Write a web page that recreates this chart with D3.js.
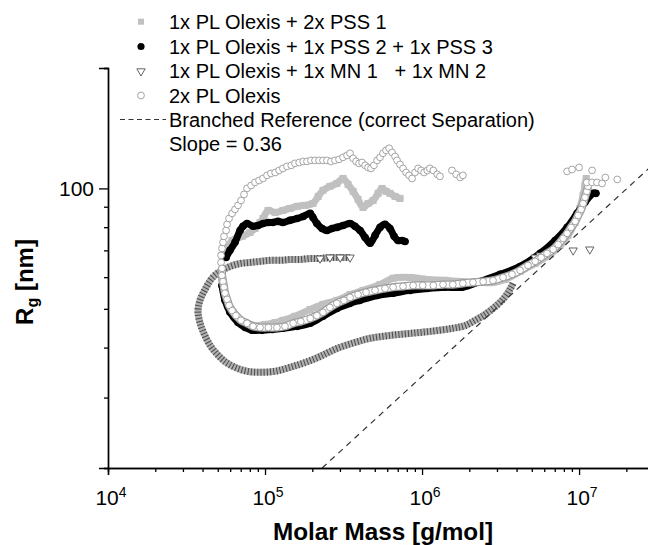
<!DOCTYPE html>
<html><head><meta charset="utf-8">
<script src="https://cdn.jsdelivr.net/npm/d3@7"></script>
<style>
html,body{margin:0;padding:0;background:#fff;}
svg{display:block;font-family:"Liberation Sans",Arial,Helvetica,sans-serif;}
</style></head>
<body><svg id="c" width="648" height="545"></svg>
<script>
// ---------- data (Molar mass [g/mol], Rg [nm]) ----------
const legendLabels = [
  "1x PL Olexis + 2x PSS 1",
  "1x PL Olexis + 1x PSS 2 + 1x PSS 3",
  "1x PL Olexis + 1x MN 1   + 1x MN 2",
  "2x PL Olexis",
  "Branched Reference (correct Separation)",
  "Slope = 0.36"
];
const xMajorTicks = [1e4, 1e5, 1e6, 1e7];
const xTickExponents = ["4", "5", "6", "7"];
const yMajorTicks = [100];
const yTickLabels = ["100"];
const xDomain = [1e4, 3e7];
const yDomain = [20, 200];

// gray squares: 1x PL Olexis + 2x PSS 1
const pssUpper = [[5.65e4,69.2],[5.81e4,71.2],[6.17e4,74.1],[6.73e4,75.4],[7.14e4,75.9],[8.02e4,77.6],[8.63e4,79.4],[9.29e4,82.2],[9.71e4,84.1],[1.045e5,88.1],[1.16e5,87.1],[1.30e5,88.1],[1.44e5,89.1],[1.60e5,90.2],[1.80e5,90.7],[2.02e5,91.7],[2.18e5,95.5],[2.34e5,98.9],[2.59e5,101.2],[2.87e5,102.9],[3.14e5,105.9],[3.38e5,102.3],[3.64e5,98.3],[3.91e5,93.9],[4.21e5,89.6],[4.53e5,91.7],[4.88e5,93.3],[5.25e5,97.2],[5.56e5,100],[5.90e5,98.3],[6.25e5,97.2],[6.73e5,95.5],[7.24e5,94.4]];
const pssLower = [[5.32e4,58.9],[5.48e4,54.7],[5.81e4,51.0],[6.44e4,47.9],[7.47e4,46.2],[8.63e4,45.4],[1.00e5,45.7],[1.16e5,46.2],[1.30e5,46.8],[1.55e5,47.9],[1.94e5,49.8],[2.34e5,51.3],[2.87e5,52.5],[3.48e5,54.3],[4.21e5,55.6],[5.40e5,57.5],[6.54e5,59.6],[8.39e5,59.9],[1.08e6,59.2],[1.40e6,58.9],[1.75e6,58.5],[2.34e6,58.2],[2.83e6,58.2],[3.38e6,59.2],[4.21e6,62.0],[5.25e6,64.9],[6.54e6,68.4],[7.57e6,72.0],[8.51e6,76.3],[9.44e6,82.2],[1.01e7,89.1],[1.06e7,96.0],[1.09e7,101.7],[1.11e7,105.9]];

// black circles: 1x PL Olexis + 1x PSS 2 + 1x PSS 3
const mixUpper = [[5.65e4,67.2],[5.98e4,70.0],[6.44e4,73.3],[6.93e4,78.5],[7.24e4,80.4],[7.68e4,81.7],[8.39e4,80.4],[9.02e4,80.8],[9.71e4,81.7],[1.05e5,82.2],[1.12e5,82.2],[1.21e5,82.7],[1.30e5,82.2],[1.44e5,83.2],[1.60e5,84.1],[1.75e5,85.1],[1.94e5,86.6],[2.02e5,84.6],[2.14e5,81.7],[2.31e5,79.4],[2.48e5,78.5],[2.67e5,79.4],[2.87e5,79.9],[3.14e5,80.8],[3.48e5,81.7],[3.74e5,80.4],[4.03e5,78.5],[4.34e5,75.4],[4.67e5,72.9],[5.02e5,76.3],[5.40e5,79.9],[5.81e5,81.3],[6.25e5,79.4],[6.64e5,75.9],[7.03e5,74.1],[7.46e5,74.1],[7.79e5,73.7]];
const mixLower = [[5.32e4,57.2],[5.56e4,52.5],[5.98e4,49.0],[6.73e4,46.2],[7.47e4,44.9],[8.26e4,44.2],[9.57e4,44.2],[1.11e5,44.4],[1.30e5,44.7],[1.60e5,45.2],[1.94e5,46.0],[2.34e5,47.9],[2.87e5,50.1],[3.48e5,51.6],[4.03e5,52.5],[5.17e5,54.0],[6.54e5,54.7],[8.39e5,55.6],[1.08e6,56.2],[1.40e6,56.6],[1.80e6,56.6],[2.34e6,58.5],[3.14e6,61.0],[4.21e6,63.8],[5.65e6,68.8],[7.03e6,74.1],[8.39e6,79.9],[9.71e6,86.6],[1.09e7,92.3],[1.23e7,97.2],[1.28e7,97.2]];

// open triangles: 1x PL Olexis + 1x MN 1 + 1x MN 2
const mnTrace = [[3.48e5,67.2],[3.01e5,67.2],[2.59e5,67.2],[2.24e5,66.8],[1.94e5,66.8],[1.67e5,66.4],[1.44e5,66.4],[1.25e5,66.1],[1.08e5,66.1],[9.29e4,65.7],[8.02e4,65.3],[6.93e4,64.9],[5.98e4,63.8],[5.16e4,62.0],[4.59e4,59.6],[4.15e4,55.9],[3.85e4,52.5],[3.74e4,49.3],[3.85e4,46.2],[4.08e4,43.4],[4.47e4,40.5],[4.95e4,38.5],[5.56e4,36.9],[6.44e4,35.7],[7.68e4,34.9],[9.29e4,34.7],[1.16e5,34.9],[1.44e5,35.7],[1.80e5,36.7],[2.24e5,38.0],[2.87e5,39.8],[3.74e5,41.2],[4.67e5,42.2],[6.25e5,42.9],[8.39e5,43.4],[1.12e6,43.9],[1.57e6,44.7],[1.88e6,45.4],[2.18e6,46.8],[2.52e6,48.4],[2.83e6,50.1],[3.14e6,51.9],[3.43e6,54.0],[3.69e6,56.6],[3.80e6,57.9]];
const mnIsolated = [[5.25e6,67.2],[5.65e6,68.0],[9.17e6,70.0],[1.17e7,70.4]];

// open circles: 2x PL Olexis
const plUpper = [[5.32e4,63.1],[5.25e4,65.3],[5.25e4,68.0],[5.32e4,70.8],[5.40e4,73.3],[5.48e4,75.9],[5.65e4,78.5],[5.73e4,81.3],[5.90e4,84.1],[6.17e4,86.6],[6.44e4,88.6],[6.73e4,90.7],[7.03e4,93.3],[7.35e4,96.6],[7.68e4,100],[8.15e4,101.7],[8.63e4,103.5],[9.16e4,104.7],[9.71e4,105.9],[1.03e5,107.8],[1.09e5,109.0],[1.16e5,109.6],[1.23e5,110.9],[1.30e5,112.2],[1.38e5,113.5],[1.47e5,114.2],[1.55e5,115.5],[1.65e5,116.1],[1.75e5,116.8],[1.85e5,116.8],[1.96e5,117.5],[2.08e5,117.5],[2.21e5,117.5],[2.34e5,117.5],[2.48e5,117.5],[2.63e5,116.8],[2.79e5,117.5],[2.96e5,118.2],[3.14e5,119.6],[3.33e5,120.9],[3.48e5,122.4],[3.64e5,118.9],[3.80e5,116.8],[3.97e5,115.5],[4.15e5,116.1],[4.34e5,114.2],[4.53e5,112.8],[4.73e5,112.2],[4.94e5,114.2],[5.17e5,117.5],[5.40e5,119.6],[5.64e5,122.4],[5.90e5,124.5],[6.17e5,126],[6.44e5,123.0],[6.73e5,120.2],[6.93e5,117.5],[7.24e5,114.8],[7.57e5,112.2],[7.91e5,109.6],[8.26e5,107.8],[8.64e5,105.9],[9.02e5,109.6],[9.44e5,112.2],[9.86e5,110.9],[1.03e6,109.6],[1.08e6,110.9],[1.12e6,112.2],[1.18e6,110.9],[1.25e6,108.4],[1.30e6,107.2],[1.55e6,110.9],[1.65e6,108.4],[1.75e6,106.5],[1.82e6,107.8]];
const plLower = [[5.32e4,63.1],[5.32e4,60.6],[5.40e4,58.5],[5.48e4,56.6],[5.56e4,54.7],[5.73e4,52.8],[5.90e4,51.0],[6.17e4,49.5],[6.53e4,48.1],[7.03e4,46.8],[7.68e4,46.0],[8.39e4,45.2],[9.29e4,44.9],[1.05e5,44.9],[1.19e5,44.9],[1.34e5,45.2],[1.51e5,46.0],[1.69e5,46.5],[1.94e5,47.3],[2.14e5,48.1],[2.34e5,49.0],[2.59e5,50.4],[2.87e5,51.6],[3.18e5,52.5],[3.48e5,53.4],[3.91e5,54.3],[4.40e5,55.0],[5.02e5,55.6],[5.81e5,56.2],[6.54e5,56.6],[7.57e5,56.9],[8.77e5,57.2],[1.01e6,57.2],[1.18e6,57.2],[1.36e6,57.5],[1.57e6,57.5],[1.82e6,57.9],[2.11e6,58.2],[2.45e6,58.5],[2.83e6,58.9],[3.28e6,59.9],[3.74e6,61.0],[4.21e6,62.4],[4.73e6,64.2],[5.25e6,65.7],[5.73e6,67.2],[6.25e6,68.8],[6.83e6,70.4],[7.35e6,72.4],[7.91e6,75.0],[8.39e6,77.2],[8.89e6,79.9],[9.44e6,82.7],[9.86e6,85.6],[1.03e7,88.6],[1.06e7,91.7],[1.09e7,95.0],[1.12e7,98.3],[1.14e7,101.2]];
const plScatter = [[8.39e6,110.3],[9.02e6,111.5],[1.00e7,112.8],[1.21e7,110.9],[1.12e7,103.5],[1.21e7,103.5],[1.30e7,103.5],[1.40e7,102.9],[1.47e7,106.5],[1.75e7,105.3]];

// branched reference line: Rg = refRg * (M / refM)^refSlope
const refSlope = 0.36;
const refM = 2.31e5;
const refRg = 20;
const refRange = [2.31e5, 3e7];

// ---------- drawing ----------
const svg = d3.select("#c");
const x = d3.scaleLog().domain(xDomain).range([108, 654]);
const y = d3.scaleLog().domain(yDomain).range([468, 468 - 400 * Math.log10(yDomain[1] / yDomain[0])]);

svg.append("defs").append("clipPath").attr("id", "clip")
  .append("rect").attr("x", 108).attr("y", y(yDomain[1])).attr("width", 560).attr("height", 468 - y(yDomain[1]));

const plot = svg.append("g").attr("clip-path", "url(#clip)");
const line = d3.line().x(d => x(d[0])).y(d => y(d[1])).curve(d3.curveCatmullRom.alpha(0.5));

const GRAY = "#c0c0c0";
// gray squares
[pssUpper, pssLower].forEach(seg => {
  plot.append("path").attr("d", line(seg)).attr("fill", "none").attr("stroke", GRAY)
    .attr("stroke-width", 7).attr("stroke-linejoin", "round").attr("stroke-linecap", "round");
  plot.append("g").selectAll("rect").data(seg).join("rect")
    .attr("x", d => x(d[0]) - 3.5).attr("y", d => y(d[1]) - 3.5).attr("width", 7).attr("height", 7).attr("fill", GRAY);
});
// black circles
[mixUpper, mixLower].forEach(seg => {
  plot.append("path").attr("d", line(seg)).attr("fill", "none").attr("stroke", "#000")
    .attr("stroke-width", 7).attr("stroke-linejoin", "round").attr("stroke-linecap", "round");
  plot.append("g").selectAll("circle").data(seg).join("circle")
    .attr("cx", d => x(d[0])).attr("cy", d => y(d[1])).attr("r", 3.8).attr("fill", "#000");
});
// triangles (dense band)
plot.append("path").attr("d", line(mnTrace)).attr("fill", "none").attr("stroke", "#b0b0b0")
  .attr("stroke-width", 7).attr("stroke-linejoin", "round");
plot.append("path").attr("d", line(mnTrace)).attr("fill", "none").attr("stroke", "#4a4a4a")
  .attr("stroke-width", 7).attr("stroke-dasharray", "1 2.2");
const tri = d3.symbol().type(d3.symbolTriangle).size(30);
plot.append("g").selectAll("path").data(mnTrace.slice(0, 4).concat(mnIsolated)).join("path")
  .attr("d", tri).attr("transform", d => `translate(${x(d[0])},${y(d[1])}) rotate(180)`)
  .attr("fill", "#fff").attr("stroke", "#555").attr("stroke-width", 0.9);

// reference dashed line
const refData = refRange.map(m => [m, refRg * Math.pow(m / refM, refSlope)]);
plot.append("path").attr("d", d3.line().x(d => x(d[0])).y(d => y(d[1]))(refData))
  .attr("fill", "none").attr("stroke", "#333").attr("stroke-width", 1.2).attr("stroke-dasharray", "6 5");

// open circles
const CIRC = "#9a9a9a";
plot.append("path").attr("d", line(plLower)).attr("fill", "none").attr("stroke", CIRC).attr("stroke-width", 8.2).attr("stroke-linejoin", "round");
plot.append("path").attr("d", line(plLower)).attr("fill", "none").attr("stroke", "#fff").attr("stroke-width", 5.8).attr("stroke-linejoin", "round");
plot.append("g").selectAll("circle").data(plUpper.concat(plLower, plScatter)).join("circle")
  .attr("cx", d => x(d[0])).attr("cy", d => y(d[1])).attr("r", 3.4)
  .attr("fill", "#fff").attr("stroke", CIRC).attr("stroke-width", 0.9);

// ---------- axes ----------
const xMinor = [];
for (let e = 4; e <= 7; e++) for (let k = 2; k <= 9; k++) { const v = k * Math.pow(10, e); if (v <= xDomain[1]) xMinor.push(v); }
const yMinor = [20, 30, 40, 50, 60, 70, 80, 90, 200];

const xAxisG = svg.append("g").attr("transform", "translate(0,468)");
xAxisG.call(d3.axisBottom(x).tickValues(xMinor).tickSize(4).tickFormat(""));
xAxisG.append("g").call(d3.axisBottom(x).tickValues(xMajorTicks).tickSize(7).tickFormat(""));
xAxisG.selectAll(".domain").attr("stroke-width", 1.4);
xAxisG.selectAll(".tick line").attr("stroke-width", 1.3);

const yAxisG = svg.append("g").attr("transform", "translate(108,0)");
yAxisG.call(d3.axisLeft(y).tickValues(yMinor).tickSize(4).tickFormat(""));
yAxisG.append("g").call(d3.axisLeft(y).tickValues(yMajorTicks).tickSize(9).tickFormat(""));
yAxisG.selectAll(".domain").attr("stroke-width", 1.4);
yAxisG.selectAll(".tick line").attr("stroke-width", 1.3);

// x tick labels with superscripts
const xl = svg.append("g").attr("font-size", 21).attr("fill", "#000");
xMajorTicks.forEach((v, i) => {
  const t = xl.append("text").attr("x", x(v) + 3).attr("y", 505).attr("text-anchor", "middle");
  t.append("tspan").text("10");
  t.append("tspan").attr("font-size", 14).attr("dy", -8).text(xTickExponents[i]);
});
// y tick labels
yMajorTicks.forEach((v, i) => {
  svg.append("text").attr("x", 94).attr("y", y(v) + 7.5).attr("text-anchor", "end")
    .attr("font-size", 21).text(yTickLabels[i]);
});

// axis titles
svg.append("text").attr("x", 383).attr("y", 540).attr("text-anchor", "middle")
  .attr("font-size", 24.3).attr("font-weight", "bold").text("Molar Mass [g/mol]");
const yt = svg.append("text").attr("transform", "translate(33,282) rotate(-90)").attr("text-anchor", "middle")
  .attr("font-size", 24).attr("font-weight", "bold");
yt.append("tspan").text("R");
yt.append("tspan").attr("font-size", 16).attr("dy", 5).text("g");
yt.append("tspan").attr("dy", -5).text(" [nm]");

// ---------- legend ----------
const lg = svg.append("g").attr("font-size", 20);
const rowY = [21.7, 46.5, 71.2, 95.5, 119.5, 143.5];
lg.append("rect").attr("x", 138).attr("y", rowY[0] - 3).attr("width", 6).attr("height", 6).attr("fill", GRAY);
lg.append("circle").attr("cx", 141).attr("cy", rowY[1]).attr("r", 3.6).attr("fill", "#000");
lg.append("path").attr("d", tri).attr("transform", `translate(141,${rowY[2]}) rotate(180)`)
  .attr("fill", "#fff").attr("stroke", "#555").attr("stroke-width", 0.9);
lg.append("circle").attr("cx", 141).attr("cy", rowY[3]).attr("r", 3.4).attr("fill", "#fff").attr("stroke", CIRC).attr("stroke-width", 0.9);
lg.append("line").attr("x1", 120).attr("x2", 166).attr("y1", rowY[4]).attr("y2", rowY[4])
  .attr("stroke", "#333").attr("stroke-width", 1.2).attr("stroke-dasharray", "5 3.5");
legendLabels.forEach((s, i) => {
  lg.append("text").attr("x", 169).attr("y", rowY[i] + 7).style("white-space", "pre").text(s);
});
</script></body></html>
